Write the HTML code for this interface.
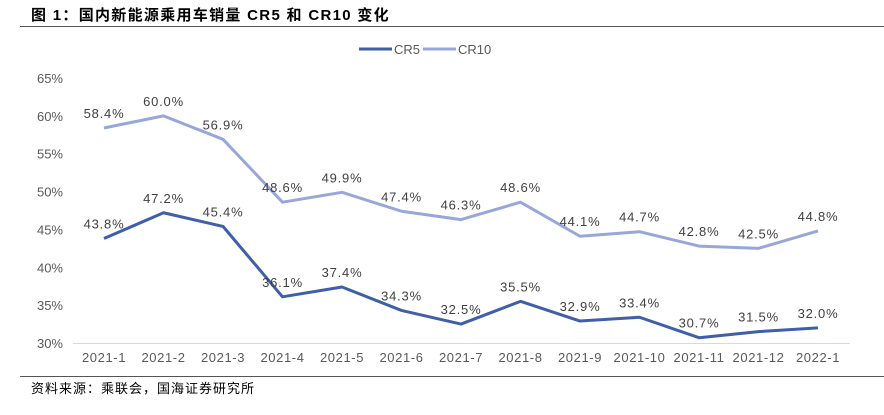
<!DOCTYPE html>
<html><head><meta charset="utf-8"><style>
body{margin:0;background:#fff;width:884px;height:410px;overflow:hidden;font-family:"Liberation Sans","Noto Sans CJK SC",sans-serif;}
</style></head><body>
<svg width="884" height="410">
<text x="31" y="20" font-size="15" font-weight="bold" fill="#000" letter-spacing="1.3" font-family="Liberation Sans,Noto Sans CJK SC,sans-serif">图 1：国内新能源乘用车销量 CR5 和 CR10 变化</text>
<line x1="20" y1="26.5" x2="884" y2="26.5" stroke="#555" stroke-width="1"/>
<g>
<line x1="359" y1="49" x2="392" y2="49" stroke="#3f5fa8" stroke-width="3"/>
<text x="394" y="54" font-size="13" fill="#595959">CR5</text>
<line x1="423" y1="49" x2="456" y2="49" stroke="#97a7d9" stroke-width="3"/>
<text x="458" y="54" font-size="13" fill="#595959">CR10</text>
</g>
<g id="plot"></g>
<line x1="20" y1="376.5" x2="884" y2="376.5" stroke="#555" stroke-width="1"/>
<text x="31" y="393" font-size="13" fill="#000" letter-spacing="1">资料来源：乘联会，国海证券研究所</text>
</svg>
<script>
const categories=["2021-1","2021-2","2021-3","2021-4","2021-5","2021-6","2021-7","2021-8","2021-9","2021-10","2021-11","2021-12","2022-1"];
const cr5=[43.8,47.2,45.4,36.1,37.4,34.3,32.5,35.5,32.9,33.4,30.7,31.5,32.0];
const cr10=[58.4,60.0,56.9,48.6,49.9,47.4,46.3,48.6,44.1,44.7,42.8,42.5,44.8];
const yTicks=[30,35,40,45,50,55,60,65];
const NS="http://www.w3.org/2000/svg";
const g=document.getElementById('plot');
const x=i=>104+i*59.5;
const y=v=>343-(v-30)*(265/35);
function mk(t,a){const e=document.createElementNS(NS,t);for(const k in a)e.setAttribute(k,a[k]);g.appendChild(e);return e;}
yTicks.forEach(v=>{const t=mk('text',{x:63,y:y(v)+5,'font-size':13,fill:'#595959','text-anchor':'end'});t.textContent=v+'%';

});
const ax=mk('line',{x1:73,y1:343.5,x2:850,y2:343.5,stroke:'#d9d9d9','stroke-width':1});


categories.forEach((c,i)=>{const t=mk('text',{x:x(i),y:362,'font-size':13,fill:'#595959','text-anchor':'middle','letter-spacing':0.6});t.textContent=c;

});
function series(vals,color,name){
const p=mk('polyline',{points:vals.map((v,i)=>x(i)+','+y(v)).join(' '),fill:'none',stroke:color,'stroke-width':3,'stroke-linejoin':'round'});


vals.forEach((v,i)=>{const t=mk('text',{x:x(i),y:y(v)-10,'font-size':13,fill:'#404040','text-anchor':'middle','letter-spacing':0.8});t.textContent=v.toFixed(1)+'%';

});
}
series(cr10,'#97a7d9','cr10');
series(cr5,'#3f5fa8','cr5');
</script>
</body></html>
